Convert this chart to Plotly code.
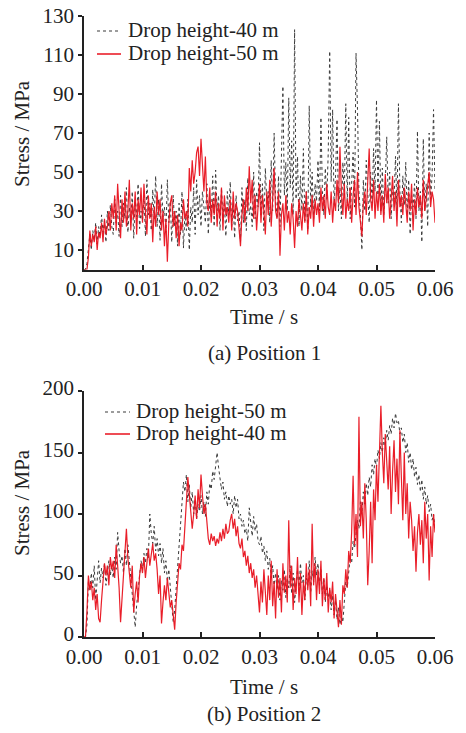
import numpy as np
import plotly.graph_objects as go

# ---------------- data ----------------
T_END = 0.06

# Position 1
pos1_40m = [0, 0, 3, 12, 18, 10, 20, 15, 24, 13, 22, 17, 28, 19, 25, 14, 30, 20, 33, 22,
            18, 36, 24, 30, 17, 38, 22, 34, 26, 42, 19, 32, 24, 40, 16, 35, 27, 44, 21, 30,
            25, 38, 17, 46, 28, 34, 20, 41, 26, 48, 22, 36, 15, 44, 27, 32, 19, 46, 24, 35,
            14, 38, 22, 30, 12, 34, 18, 40, 11, 28, 20, 36, 10, 32, 24, 42, 18, 46, 28, 38,
            22, 40, 30, 24, 44, 18, 36, 27, 48, 22, 51, 30, 38, 20, 42, 26, 35, 17, 40, 28,
            45, 22, 34, 16, 38, 25, 30, 14, 42, 24, 36, 20, 47, 28, 33, 22, 50, 26, 40, 32,
            65, 28, 44, 20, 52, 34, 40, 24, 56, 30, 70, 36, 26, 48, 22, 60, 94, 38, 55, 30,
            88, 42, 66, 28, 123, 36, 58, 22, 48, 30, 62, 25, 40, 20, 84, 32, 50, 26, 44, 35,
            56, 30, 78, 40, 28, 52, 36, 60, 112, 45, 82, 33, 48, 77, 30, 42, 26, 55, 38, 85,
            34, 78, 26, 44, 60, 32, 111, 82, 40, 28, 10, 46, 30, 56, 36, 24, 50, 34, 62, 40,
            87, 38, 76, 30, 52, 28, 44, 68, 34, 50, 26, 42, 36, 58, 30, 85, 40, 24, 48, 33,
            55, 28, 46, 18, 38, 32, 44, 26, 71, 30, 40, 14, 67, 30, 44, 22, 70, 36, 48, 82, 40]
pos1_50m = [0, 0, 0, 6, 20, 12, 18, 14, 22, 10, 19, 16, 24, 14, 26, 18, 22, 30, 20, 34,
            26, 38, 20, 44, 28, 16, 36, 24, 40, 22, 30, 46, 20, 34, 26, 40, 18, 36, 28, 42,
            24, 44, 30, 18, 38, 26, 34, 14, 32, 22, 40, 28, 36, 20, 30, 12, 26, 4, 24, 34,
            38, 22, 30, 16, 28, 12, 24, 20, 36, 26, 30, 22, 52, 40, 56, 44, 50, 60, 63, 48,
            67, 52, 40, 58, 34, 30, 42, 24, 36, 28, 40, 22, 34, 26, 42, 20, 38, 28, 32, 24,
            36, 20, 40, 26, 34, 30, 22, 12, 28, 36, 24, 42, 30, 53, 34, 46, 26, 38, 20, 34,
            44, 24, 38, 30, 18, 40, 28, 46, 22, 36, 52, 30, 26, 40, 7, 28, 34, 20, 38, 24,
            30, 18, 34, 26, 11, 30, 22, 36, 28, 20, 34, 24, 40, 18, 32, 26, 38, 22, 36, 28,
            34, 24, 42, 30, 38, 26, 44, 32, 28, 40, 24, 36, 30, 46, 34, 63, 40, 28, 44, 26,
            36, 30, 42, 24, 38, 46, 28, 50, 32, 22, 17, 34, 40, 28, 44, 62, 36, 30, 46, 26,
            40, 30, 44, 28, 38, 24, 49, 34, 42, 26, 36, 48, 30, 40, 22, 46, 32, 38, 28, 42,
            34, 24, 40, 30, 44, 20, 36, 28, 42, 32, 38, 26, 46, 30, 36, 44, 50, 32, 40, 36, 24]

# Position 2
pos2_50m = [0, 0, 10, 45, 38, 52, 40, 58, 30, 50, 62, 44, 56, 48, 60, 42, 55, 62, 50, 58,
            48, 65, 55, 85, 70, 60, 66, 52, 72, 58, 75, 62, 48, 30, 18, 8, 26, 40, 55, 62,
            55, 68, 60, 72, 64, 100, 84, 76, 90, 70, 80, 66, 76, 60, 72, 52, 62, 45, 55, 40,
            30, 12, 22, 40, 55, 72, 90, 110, 126, 118, 132, 110, 124, 105, 118, 100, 112, 96, 108, 102,
            115, 100, 110, 98, 118, 108, 125, 120, 135, 128, 140, 150, 138, 130, 120, 126, 112, 118, 106, 115,
            108, 112, 100, 115, 105, 112, 96, 100, 90, 95, 84, 88, 78, 105, 92, 82, 98, 86, 92, 78,
            75, 82, 68, 74, 62, 70, 55, 64, 48, 58, 42, 52, 38, 50, 30, 46, 38, 55, 32, 48,
            40, 58, 35, 52, 28, 46, 55, 38, 60, 44, 50, 30, 48, 42, 62, 36, 54, 45, 65, 50,
            60, 42, 55, 35, 48, 28, 42, 32, 38, 22, 34, 18, 30, 14, 24, 10, 18, 12, 30, 45,
            40, 55, 65, 60, 78, 72, 85, 95, 88, 110, 100, 118, 108, 125, 115, 130, 122, 140, 132, 145,
            138, 152, 145, 158, 150, 162, 155, 168, 160, 172, 165, 178, 170, 182, 174, 176, 165, 170, 158, 165,
            150, 158, 142, 150, 136, 145, 130, 138, 124, 132, 118, 128, 112, 122, 108, 115, 102, 108, 95, 100, 88]
pos2_40m = [0, 0, 20, 50, 38, 45, 30, 40, 22, 35, 15, 12, 30, 45, 60, 50, 58, 42, 65, 55,
            62, 48, 75, 58, 40, 12, 30, 55, 70, 88, 64, 50, 40, 58, 20, 35, 45, 28, 50, 60,
            52, 65, 48, 60, 72, 58, 70, 76, 62, 68, 55, 35, 50, 11, 28, 42, 30, 48, 36, 24,
            30, 15, 6, 28, 45, 60, 55, 75, 70, 95, 110, 130, 118, 105, 88, 100, 115, 96, 120, 105,
            132, 115, 100, 108, 90, 80, 75, 84, 78, 82, 74, 80, 76, 85, 78, 88, 80, 92, 84, 86,
            95, 100, 88, 96, 82, 90, 76, 72, 80, 65, 70, 58, 66, 52, 60, 48, 55, 40, 50, 35,
            20, 45, 28, 55, 35, 18, 50, 30, 62, 25, 45, 15, 55, 32, 48, 20, 60, 36, 50, 28,
            95, 40, 58, 22, 48, 35, 65, 28, 52, 18, 45, 30, 60, 38, 55, 25, 92, 42, 60, 30,
            55, 35, 62, 25, 48, 30, 52, 20, 40, 28, 45, 15, 35, 22, 8, 30, 10, 42, 35, 55,
            40, 70, 60, 85, 131, 75, 100, 65, 179, 90, 110, 80, 125, 95, 42, 70, 110, 60, 120, 95,
            140, 110, 160, 188, 150, 125, 165, 140, 120, 155, 100, 135, 160, 118, 145, 108, 168, 130, 95, 150,
            100, 125, 80, 110, 95, 70, 90, 53, 85, 100, 75, 95, 60, 110, 80, 100, 46, 90, 65, 100, 85]

x_ticks = [0.0, 0.01, 0.02, 0.03, 0.04, 0.05, 0.06]
y1_ticks = [10, 30, 50, 70, 90, 110, 130]
y2_ticks = [0, 50, 100, 150, 200]

legend1_labels = ["Drop height-40 m", "Drop height-50 m"]
legend2_labels = ["Drop height-50 m", "Drop height-40 m"]


def time_for(series):
    return np.linspace(0.0, T_END, len(series))


# ---------------- figure ----------------
FONT = "Liberation Serif"
TXT = "#222"
BLACK_C = "#3a3a3a"
RED_C = "rgba(232,18,30,0.95)"
BLACK_LINE = dict(color=BLACK_C, width=1.0, dash="dot")
RED_LINE = dict(color=RED_C, width=1.2)

fig = go.Figure()
fig.add_trace(go.Scatter(x=time_for(pos1_40m), y=pos1_40m, mode="lines", line=BLACK_LINE,
                         name=legend1_labels[0], xaxis="x", yaxis="y"))
fig.add_trace(go.Scatter(x=time_for(pos1_50m), y=pos1_50m, mode="lines", line=RED_LINE,
                         name=legend1_labels[1], xaxis="x", yaxis="y"))
fig.add_trace(go.Scatter(x=time_for(pos2_50m), y=pos2_50m, mode="lines", line=BLACK_LINE,
                         name=legend2_labels[0], xaxis="x2", yaxis="y2"))
fig.add_trace(go.Scatter(x=time_for(pos2_40m), y=pos2_40m, mode="lines", line=RED_LINE,
                         name=legend2_labels[1], xaxis="x2", yaxis="y2"))

W, H = 466, 733
x_dom = [84 / W, 435 / W]

axis_common = dict(showline=True, linecolor=TXT, linewidth=1.5, showgrid=False,
                   zeroline=False, tickfont=dict(family=FONT, size=21, color=TXT),
                   tickcolor=TXT, tickwidth=1.5, automargin=False)

fig.update_layout(
    width=W, height=H, autosize=False,
    margin=dict(l=0, r=0, t=0, b=0, pad=0, autoexpand=False),
    paper_bgcolor="white", plot_bgcolor="white",
    font=dict(family=FONT, size=21, color=TXT),
    showlegend=False,
    xaxis=dict(domain=x_dom, anchor="y", range=[0, T_END], tickvals=x_ticks,
               tickformat=".2f", ticks="inside", ticklen=5, **axis_common),
    yaxis=dict(domain=[1 - 269.5 / H, 1 - 16 / H], anchor="x", range=[0, 130],
               tickvals=y1_ticks, ticks="outside", ticklen=4, **axis_common),
    xaxis2=dict(domain=x_dom, anchor="y2", range=[0, T_END], tickvals=x_ticks,
                tickformat=".2f", ticks="inside", ticklen=5, **axis_common),
    yaxis2=dict(domain=[1 - 637 / H, 1 - 391 / H], anchor="x2", range=[0, 200],
                tickvals=y2_ticks, ticks="outside", ticklen=4, ticklabelshift=-3,
                **axis_common),
)

ann_font = dict(family=FONT, size=21, color=TXT)
annotations = [
    dict(text="Stress / MPa", x=22 / W, y=1 - 134 / H, textangle=-90, xanchor="center"),
    dict(text="Stress / MPa", x=22 / W, y=1 - 503 / H, textangle=-90, xanchor="center"),
    dict(text="Time / s", x=264 / W, y=1 - 317 / H, xanchor="center"),
    dict(text="(a) Position 1", x=264 / W, y=1 - 353 / H, xanchor="center"),
    dict(text="Time / s", x=264 / W, y=1 - 687 / H, xanchor="center"),
    dict(text="(b) Position 2", x=264 / W, y=1 - 714 / H, xanchor="center"),
    # legend texts
    dict(text=legend1_labels[0], x=126 / W, y=1 - 30 / H, xanchor="left"),
    dict(text=legend1_labels[1], x=126 / W, y=1 - 53 / H, xanchor="left"),
    dict(text=legend2_labels[0], x=134 / W, y=1 - 411 / H, xanchor="left"),
    dict(text=legend2_labels[1], x=134 / W, y=1 - 433 / H, xanchor="left"),
]
for a in annotations:
    fig.add_annotation(xref="paper", yref="paper", showarrow=False,
                       yanchor="middle", font=ann_font, **a)

# legend line samples
legend_samples = [
    (97, 121, 31, BLACK_C, "dot", 1.2),
    (97, 121, 54, RED_C, "solid", 1.6),
    (105, 130, 412, BLACK_C, "dot", 1.2),
    (105, 130, 434, RED_C, "solid", 1.6),
]
for x0, x1, yy, col, dash, lw in legend_samples:
    fig.add_shape(type="line", xref="paper", yref="paper",
                  x0=x0 / W, x1=x1 / W, y0=1 - yy / H, y1=1 - yy / H,
                  line=dict(color=col, width=lw, dash=dash))

fig.write_html("out.html")
